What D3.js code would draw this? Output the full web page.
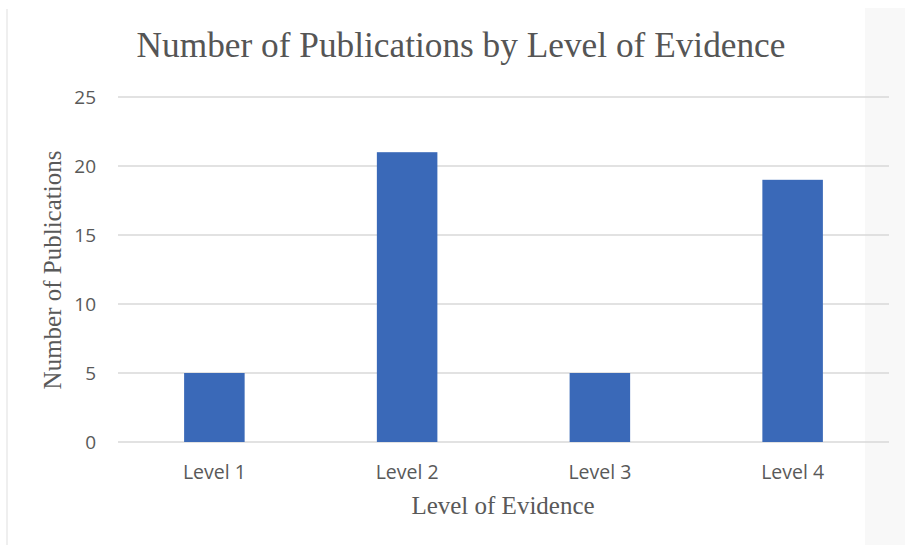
<!DOCTYPE html>
<html>
<head>
<meta charset="utf-8">
<script src="https://cdn.jsdelivr.net/npm/d3@7"></script>
<style>
  html, body { margin: 0; padding: 0; background: #fff; }
  svg { display: block; }
</style>
</head>
<body>
<svg id="chart" width="905" height="545"></svg>
<script>
// Publications grouped by level of evidence
const categories = ["Level 1", "Level 2", "Level 3", "Level 4"];
const publications = [5, 21, 5, 19];
const yTicks = [0, 5, 10, 15, 20, 25];

const titleText = "Number of Publications by Level of Evidence";
const xTitle = "Level of Evidence";
const yTitle = "Number of Publications";

const W = 905, H = 545;
const margin = { left: 118, right: 16, top: 97, bottom: 103 };
const plotW = W - margin.left - margin.right;
const plotH = H - margin.top - margin.bottom;

const svg = d3.select("#chart");

// page frame: thin left rule and pale right strip
svg.append("line")
  .attr("x1", 7).attr("x2", 7).attr("y1", 9).attr("y2", H)
  .attr("stroke", "#e4e4e4").attr("stroke-width", 1.2);
svg.append("rect")
  .attr("x", 865).attr("y", 8).attr("width", W - 865).attr("height", H - 8)
  .attr("fill", "#f8f8f8");

const x = d3.scaleBand()
  .domain(categories)
  .range([margin.left, margin.left + plotW])
  .paddingInner(0.686)
  .paddingOuter(0.343);

const y = d3.scaleLinear()
  .domain([0, 25])
  .range([margin.top + plotH, margin.top]);

// horizontal gridlines
svg.append("g")
  .selectAll("line")
  .data(yTicks)
  .join("line")
  .attr("x1", margin.left)
  .attr("x2", margin.left + plotW)
  .attr("y1", d => y(d))
  .attr("y2", d => y(d))
  .attr("stroke", "#d9d9d9")
  .attr("stroke-width", 1.5);

// bars
svg.append("g")
  .selectAll("rect")
  .data(categories.map((c, i) => ({ c, v: publications[i] })))
  .join("rect")
  .attr("x", d => x(d.c))
  .attr("width", x.bandwidth())
  .attr("y", d => y(d.v))
  .attr("height", d => y(0) - y(d.v))
  .attr("fill", "#3a69b8");

// y axis labels
const yAxis = d3.axisLeft(y).tickValues(yTicks).tickSize(0).tickPadding(0);
const gy = svg.append("g")
  .attr("transform", `translate(${margin.left - 22},0)`)
  .call(yAxis);
gy.select(".domain").remove();
gy.selectAll("text")
  .attr("font-family", "'Open Sans', sans-serif")
  .attr("font-size", 19)
  .attr("fill", "#595959")
  .attr("dy", "0.34em");

// x axis labels
const xAxis = d3.axisBottom(x).tickSize(0).tickPadding(0);
const gx = svg.append("g")
  .attr("transform", `translate(0,${y(0)})`)
  .call(xAxis);
gx.select(".domain").remove();
gx.selectAll("text")
  .attr("font-family", "'Open Sans', sans-serif")
  .attr("font-size", 19.5)
  .attr("fill", "#595959")
  .attr("dy", 0)
  .attr("y", 37);

// chart title
svg.append("text")
  .attr("x", 461)
  .attr("y", 57)
  .attr("text-anchor", "middle")
  .attr("font-family", "'Liberation Serif', 'Times New Roman', serif")
  .attr("font-size", 35.3)
  .attr("fill", "#555555")
  .text(titleText);

// axis titles
svg.append("text")
  .attr("x", 503)
  .attr("y", 514)
  .attr("text-anchor", "middle")
  .attr("font-family", "'Liberation Serif', 'Times New Roman', serif")
  .attr("font-size", 25)
  .attr("fill", "#595959")
  .text(xTitle);

svg.append("text")
  .attr("transform", `translate(61,270) rotate(-90)`)
  .attr("text-anchor", "middle")
  .attr("font-family", "'Liberation Serif', 'Times New Roman', serif")
  .attr("font-size", 25)
  .attr("fill", "#595959")
  .text(yTitle);
</script>
</body>
</html>
